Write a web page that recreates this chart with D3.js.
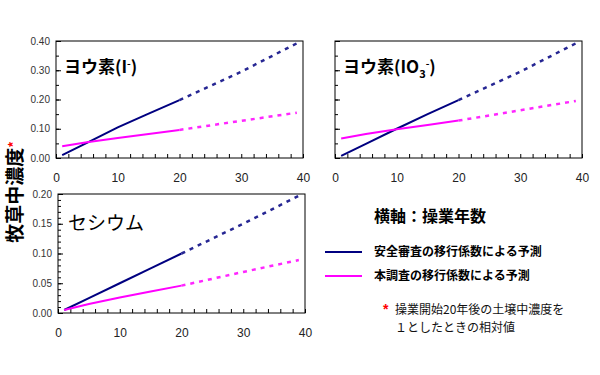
<!DOCTYPE html>
<html>
<head>
<meta charset="utf-8">
<script src="https://cdn.jsdelivr.net/npm/d3@7"></script>
<style>
    body { margin: 0; background: #fff; }
    svg text { font-family: "Liberation Sans", Arial, sans-serif; }
    .jp { font-family: "Noto Sans CJK JP", sans-serif; }
    .tick-label { font-size: 10px; fill: #333; }
    .xtick-label { font-size: 12px; fill: #222; }
</style>
</head>
<body>
<div id="chart"></div>
<script>

// years and values
let years = [1, 5, 10, 15, 20];
let yearsFuture = [20, 30, 39];

// ヨウ素(I-)
let iodideSafety = [0.010, 0.052, 0.105, 0.152, 0.198];
let iodideSafetyFut = [0.198, 0.295, 0.392];
let iodideSurvey = [0.040, 0.054, 0.068, 0.082, 0.096];
let iodideSurveyFut = [0.096, 0.127, 0.155];

// ヨウ素(IO3-)
let iodateSafety = [0.007, 0.048, 0.100, 0.150, 0.198];
let iodateSafetyFut = [0.198, 0.295, 0.392];
let iodateSurvey = [0.067, 0.082, 0.098, 0.113, 0.128];
let iodateSurveyFut = [0.128, 0.163, 0.195];

// セシウム
let cesiumSafety = [0.005, 0.025, 0.050, 0.075, 0.100];
let cesiumSafetyFut = [0.100, 0.150, 0.197];
let cesiumSurvey = [0.005, 0.015, 0.026, 0.036, 0.046];
let cesiumSurveyFut = [0.046, 0.069, 0.089];

let xTicks = [0, 10, 20, 30, 40];

let blue = "#000080";
let magenta = "#ff00ff";

let svg = d3.select("#chart").append("svg")
    .attr("width", 600)
    .attr("height", 375);

function drawPanel(p) {
    let g = svg.append("g")
        .attr("transform", "translate(" + p.left + "," + p.top + ")");

    let x = d3.scaleLinear().domain([0, 40]).range([0, p.width]);
    let y = d3.scaleLinear().domain([0, p.ymax]).range([p.height, 0]);

    // frame
    g.append("rect")
        .attr("width", p.width)
        .attr("height", p.height)
        .attr("fill", "none")
        .attr("stroke", "#000")
        .attr("stroke-width", 1);

    // x minor ticks (inward)
    g.append("g")
        .attr("transform", "translate(0," + p.height + ")")
        .call(d3.axisTop(x).tickValues(d3.range(0, 41, 2)).tickSize(4).tickFormat(""))
        .call(a => a.select(".domain").remove());

    // x labels
    g.append("g")
        .attr("transform", "translate(0," + (p.height + 12) + ")")
        .call(d3.axisBottom(x).tickValues(xTicks).tickSize(0).tickFormat(d3.format("d")))
        .call(a => a.select(".domain").remove())
        .selectAll("text").attr("class", "xtick-label");

    // y minor ticks (inward)
    g.append("g")
        .call(d3.axisRight(y).tickValues(d3.range(0, p.ymax + 1e-9, p.minor)).tickSize(3).tickFormat(""))
        .call(a => a.select(".domain").remove());
    g.append("g")
        .call(d3.axisRight(y).tickValues(d3.range(0, p.ymax + 1e-9, p.major)).tickSize(5).tickFormat(""))
        .call(a => a.select(".domain").remove());

    if (p.labels) {
        g.append("g")
            .call(d3.axisLeft(y).tickValues(d3.range(0, p.ymax + 1e-9, p.labelStep)).tickSize(0).tickPadding(6).tickFormat(d3.format(".2f")))
            .call(a => a.select(".domain").remove())
            .selectAll("text").attr("class", "tick-label");
    }
    g.selectAll(".tick line").attr("stroke", "#000");

    let line = d3.line()
        .x(d => x(d[0]))
        .y(d => y(d[1]));

    p.series.forEach(s => {
        g.append("path")
            .datum(years.map((yr, i) => [yr, s.now[i]]))
            .attr("fill", "none")
            .attr("stroke", s.color)
            .attr("stroke-width", 2)
            .attr("d", line);
        g.append("path")
            .datum(yearsFuture.map((yr, i) => [yr, s.future[i]]))
            .attr("fill", "none")
            .attr("stroke", s.color)
            .attr("stroke-width", 2.5)
            .attr("stroke-dasharray", "4,5")
            .attr("opacity", 0.85)
            .attr("d", line);
    });

    let t = g.append("text")
        .attr("class", "jp")
        .attr("x", 8)
        .attr("y", 32)
        .attr("font-size", 17)
        .attr("font-weight", "bold")
        .attr("fill", "#000");
    p.title(t);
}

drawPanel({
    left: 56, top: 41, width: 247, height: 117, ymax: 0.40,
    minor: 0.05, major: 0.10, labels: true, labelStep: 0.10,
    series: [
        { color: blue, now: iodideSafety, future: iodideSafetyFut },
        { color: magenta, now: iodideSurvey, future: iodideSurveyFut }
    ],
    title: t => {
        t.append("tspan").text("ヨウ素(I");
        t.append("tspan").attr("dy", -6).attr("font-size", 10).text("-");
        t.append("tspan").attr("dy", 6).text(")");
    }
});

drawPanel({
    left: 335, top: 41, width: 247, height: 117, ymax: 0.40,
    minor: 0.05, major: 0.10, labels: false,
    series: [
        { color: blue, now: iodateSafety, future: iodateSafetyFut },
        { color: magenta, now: iodateSurvey, future: iodateSurveyFut }
    ],
    title: t => {
        t.append("tspan").text("ヨウ素(IO");
        t.append("tspan").attr("dy", 5).attr("font-size", 11).text("3");
        t.append("tspan").attr("dy", -11).attr("font-size", 10).text("-");
        t.append("tspan").attr("dy", 6).text(")");
    }
});

drawPanel({
    left: 58, top: 194, width: 247, height: 119, ymax: 0.20,
    minor: 0.01, major: 0.05, labels: true, labelStep: 0.05,
    series: [
        { color: blue, now: cesiumSafety, future: cesiumSafetyFut },
        { color: magenta, now: cesiumSurvey, future: cesiumSurveyFut }
    ],
    title: t => {
        t.text("セシウム").attr("font-weight", "normal").attr("y", 36).attr("x", 10).attr("font-size", 19);
    }
});

// y axis title
let yt = svg.append("text")
    .attr("class", "jp")
    .attr("transform", "translate(22,192) rotate(-90)")
    .attr("text-anchor", "middle")
    .attr("font-size", 19)
    .attr("font-weight", "bold");
yt.append("tspan").text("牧草中濃度");
yt.append("tspan").attr("fill", "#ff0000").attr("font-size", 13).attr("dy", -4).text("*");

// legend
svg.append("text")
    .attr("class", "jp")
    .attr("x", 374)
    .attr("y", 222)
    .attr("font-size", 16)
    .attr("font-weight", "bold")
    .text("横軸：操業年数");

let legendItems = [
    { color: blue, label: "安全審査の移行係数による予測", y: 252 },
    { color: magenta, label: "本調査の移行係数による予測", y: 276 }
];

legendItems.forEach(d => {
    svg.append("line")
        .attr("x1", 325).attr("x2", 362)
        .attr("y1", d.y).attr("y2", d.y)
        .attr("stroke", d.color)
        .attr("stroke-width", 2);
    svg.append("text")
        .attr("class", "jp")
        .attr("x", 374)
        .attr("y", d.y + 4)
        .attr("font-size", 12)
        .attr("font-weight", "bold")
        .text(d.label);
});

svg.append("text")
    .attr("x", 383)
    .attr("y", 314)
    .attr("font-size", 14)
    .attr("font-weight", "bold")
    .attr("fill", "#ff0000")
    .text("*");

let noteLines = ["操業開始20年後の土壌中濃度を", "１としたときの相対値"];
noteLines.forEach((s, i) => {
    svg.append("text")
        .attr("class", "jp")
        .attr("x", 395)
        .attr("y", 314 + i * 18)
        .attr("font-size", 12)
        .attr("fill", "#111")
        .text(s);
});

</script>
</body>
</html>
